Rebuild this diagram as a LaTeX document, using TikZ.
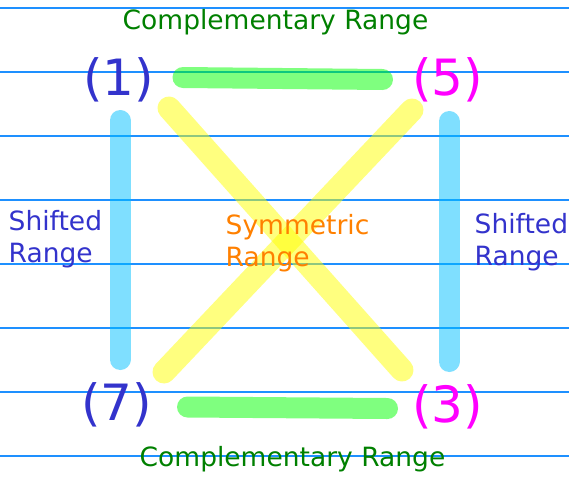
\documentclass[tikz,border=0pt]{standalone}
\usepackage{fontspec}
\setmainfont{DejaVu Sans}
\definecolor{ruleblue}{RGB}{30,144,255}
\definecolor{numblue}{RGB}{51,51,204}
\definecolor{nummagenta}{RGB}{255,0,255}
\definecolor{compgreen}{RGB}{0,128,0}
\definecolor{symorange}{RGB}{255,128,0}
\definecolor{skybar}{RGB}{0,191,255}
\definecolor{greenbar}{RGB}{0,255,0}
\definecolor{yellowbar}{RGB}{255,255,0}

\begin{document}
\begin{tikzpicture}[x=1pt, y=-1pt,
  rule/.style={draw=ruleblue, line width=1.2pt},
  num/.style={font=\fontsize{50}{60}\selectfont, inner sep=0pt},
  lbl/.style={font=\fontsize{26.5}{32}\selectfont, inner sep=0pt, align=left},
  bar/.style={line width=21pt, line cap=round, opacity=0.5}]
  \useasboundingbox (0,0) rectangle (569,477);
  % ruled lines
  \foreach \y in {8,72,...,456}
    \draw[rule] (0,\y) -- (569,\y);
  % corner numbers
  \node[num, text=numblue] (n1) at (118.5,80) {(1)};
  \node[num, text=nummagenta] (n5) at (447.5,80) {(5)};
  \node[num, text=numblue] (n7) at (116.5,405) {(7)};
  \node[num, text=nummagenta] (n3) at (447.5,406.5) {(3)};
  % bar ends
  \coordinate (l1) at (120,120.5);
  \coordinate (l7) at (120,359.5);
  \coordinate (r5) at (449,121.5);
  \coordinate (r3) at (449,361.5);
  \coordinate (t1) at (183,77.5);
  \coordinate (t5) at (382.5,79.5);
  \coordinate (b7) at (187.5,407);
  \coordinate (b3) at (387.5,408.5);
  \coordinate (x1) at (169,108);
  \coordinate (x3) at (402,370);
  \coordinate (x7) at (164,372);
  \coordinate (x5) at (412,110);
  % ranges
  \draw[bar, draw=skybar] (l1) -- (l7);
  \draw[bar, draw=skybar] (r5) -- (r3);
  \draw[bar, draw=greenbar] (t1) -- (t5);
  \draw[bar, draw=greenbar] (b7) -- (b3);
  \draw[bar, draw=yellowbar, line width=23pt] (x1) -- (x3);
  \draw[bar, draw=yellowbar, line width=23pt] (x7) -- (x5);
  % labels
  \node[lbl, text=compgreen, anchor=base] (ctop) at (275.5,29.5) {Complementary Range};
  \node[lbl, text=compgreen, anchor=base] (cbot) at (292.5,466.5) {Complementary Range};
  \node[lbl, text=numblue, anchor=north west] (sl) at (8.5,210.5) {Shifted\\Range};
  \node[lbl, text=numblue, anchor=north west] (sr) at (474.5,213.5) {Shifted\\Range};
  \node[lbl, text=symorange, anchor=north west] (sym) at (225.5,214.5) {Symmetric\\Range};
\end{tikzpicture}
\end{document}
